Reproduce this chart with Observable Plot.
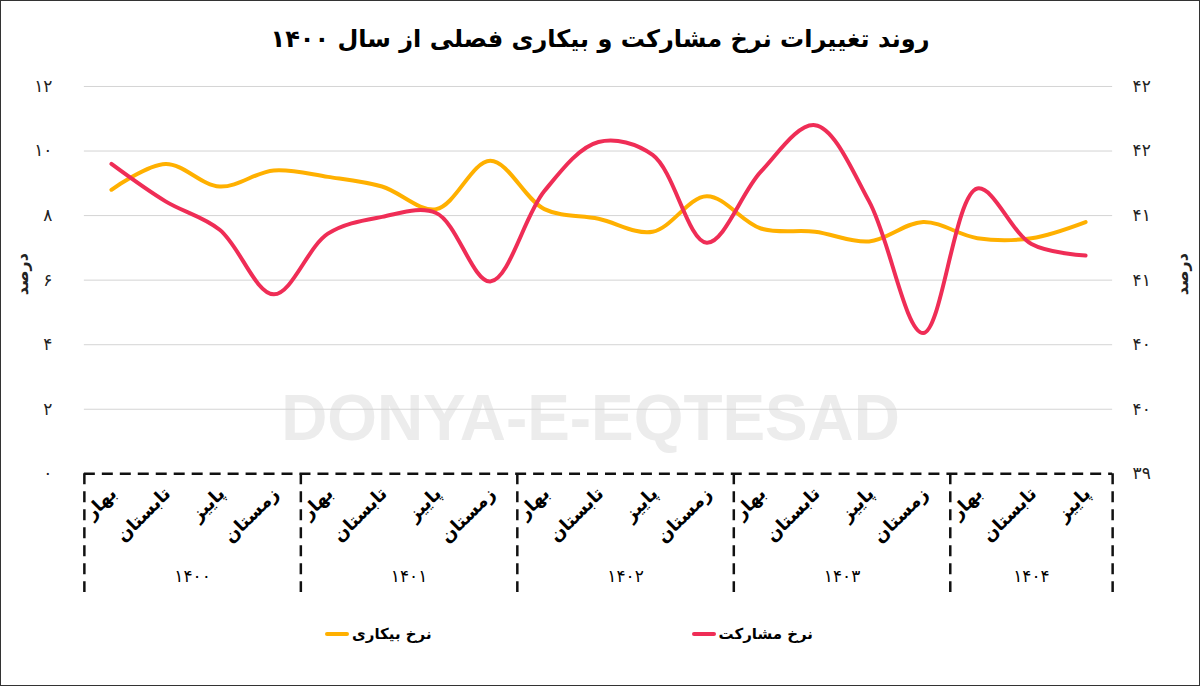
<!DOCTYPE html>
<html>
<head>
<meta charset="utf-8">
<script src="https://cdn.jsdelivr.net/npm/d3@7"></script>
<script src="https://cdn.jsdelivr.net/npm/@observablehq/plot@0.6"></script>
<style>
  html, body { margin: 0; padding: 0; background: #fff; }
  #wrap { position: relative; width: 1200px; height: 686px; box-sizing: border-box; border: 1px solid #333; overflow: hidden; font-family: "DejaVu Sans", sans-serif; }
  #title { position: absolute; top: 24px; left: 0; width: 100%; text-align: center; font-size: 24px; font-weight: bold; color: #000; direction: rtl; }
  #chart { position: absolute; top: 70px; left: 0; }
  #legend { position: absolute; top: 624px; left: 0; width: 100%; display: flex; justify-content: center; gap: 260px; padding-right: 62px; box-sizing: border-box; font-size: 15px; font-weight: bold; }
  .item { display: flex; align-items: center; gap: 3px; }
  .swatch { width: 24px; height: 4px; border-radius: 2px; }
</style>
</head>
<body>
<div id="wrap">
  <div id="title">روند تغییرات نرخ مشارکت و بیکاری فصلی از سال ۱۴۰۰</div>
  <div id="chart"></div>
  <div id="legend"></div>
</div>
<script>
const years = ["1400", "1401", "1402", "1403", "1404"];
const quartersPerYear = [4, 4, 4, 4, 3];
const seasons = ["بهار", "تابستان", "پاییز", "زمستان"];
const unemployment = [8.8, 9.6, 8.9, 9.4, 9.2, 8.9, 8.2, 9.7, 8.2, 7.9, 7.5, 8.6, 7.6, 7.5, 7.2, 7.8, 7.3, 7.3, 7.8];
const participation = [41.40, 41.11, 40.89, 40.39, 40.86, 40.99, 41.02, 40.49, 41.19, 41.57, 41.47, 40.79, 41.34, 41.70, 41.11, 40.09, 41.21, 40.78, 40.69];
const leftTicks = [0, 2, 4, 6, 8, 10, 12];
const rightTicks = [39, 39.5, 40, 40.5, 41, 41.5, 42];
const seriesNames = { unemployment: "نرخ بیکاری", participation: "نرخ مشارکت" };
const colors = { unemployment: "#ffb000", participation: "#ef2d56" };

const fa = s => String(s).replace(/\d/g, d => "۰۱۲۳۴۵۶۷۸۹"[d]);
const lMin = leftTicks[0], lMax = leftTicks[leftTicks.length - 1];
const rMin = rightTicks[0], rMax = rightTicks[rightTicks.length - 1];
const toLeft = v => lMin + (v - rMin) * (lMax - lMin) / (rMax - rMin);
const fromLeft = v => rMin + (v - lMin) * (rMax - rMin) / (lMax - lMin);

// build rows
const rows = [];
let idx = 0;
const groups = [];
years.forEach((y, gi) => {
  const start = idx;
  for (let q = 0; q < quartersPerYear[gi]; q++) {
    rows.push({ i: idx, year: y, season: seasons[q], u: unemployment[idx], p: participation[idx], pl: toLeft(participation[idx]) });
    idx++;
  }
  groups.push({ year: y, start: start - 0.5, end: idx - 0.5, center: (start + idx - 1) / 2 });
});
const boundaries = [groups[0].start, ...groups.map(g => g.end)];

const W = 1200, H = 540, mTop = 15, mBottom = 137, mLeft = 83, mRight = 87;
const frameH = H - mTop - mBottom;

const chart = Plot.plot({
  width: W, height: H,
  marginTop: mTop, marginBottom: mBottom, marginLeft: mLeft, marginRight: mRight,
  style: { fontFamily: "DejaVu Sans, sans-serif", fontSize: "16px", color: "#222", background: "transparent" },
  x: { type: "linear", domain: [groups[0].start, groups[groups.length - 1].end], axis: null },
  y: { domain: [lMin, lMax], axis: null },
  marks: [
    Plot.text(["DONYA-E-EQTESAD"], { frameAnchor: "middle", dx: -8, dy: 140, fill: "#ececec", fontSize: 64, fontWeight: "bold", fontFamily: "Liberation Sans, Arial, sans-serif" }),
    Plot.ruleY(leftTicks.filter(t => t !== lMin), { stroke: "#d4d4d4", strokeWidth: 1 }),
    Plot.axisY(leftTicks, { anchor: "left", tickSize: 0, tickPadding: 32, tickFormat: d => fa(d), fontSize: 17, fill: "#222" }),
    Plot.axisY(rightTicks.map(toLeft), { anchor: "right", tickSize: 0, tickPadding: 20, tickFormat: d => fa(Math.round(fromLeft(d))), fontSize: 17, fill: "#222", textAnchor: "start" }),
    Plot.text(["درصد"], { frameAnchor: "left", textAnchor: "middle", dx: -62, dy: -6, rotate: -90, fontWeight: "bold", fontSize: 16 }),
    Plot.text(["درصد"], { frameAnchor: "right", textAnchor: "middle", dx: 70, dy: -6, rotate: -90, fontWeight: "bold", fontSize: 16 }),
    Plot.line(rows, { x: "i", y: "u", stroke: colors.unemployment, strokeWidth: 4, curve: "catmull-rom" }),
    Plot.line(rows, { x: "i", y: "pl", stroke: colors.participation, strokeWidth: 4, curve: "catmull-rom" }),
    Plot.ruleY([lMin], { stroke: "#111", strokeWidth: 2.5, strokeDasharray: "11,7" }),
    Plot.ruleX(boundaries, { stroke: "#111", strokeWidth: 2.5, strokeDasharray: "11,7", insetTop: frameH, insetBottom: -125 }),
    Plot.text(rows, { x: "i", text: "season", frameAnchor: "bottom", rotate: -45, textAnchor: "end", lineAnchor: "top", dx: -3, dy: 12, fontWeight: "bold", fontSize: 18, fill: "#000" }),
    Plot.text(groups, { x: "center", text: d => fa(d.year), frameAnchor: "bottom", dy: 108, fontSize: 17, fill: "#000" })
  ]
});
document.getElementById("chart").appendChild(chart);

const legend = document.getElementById("legend");
["unemployment", "participation"].forEach(k => {
  const it = document.createElement("div");
  it.className = "item";
  const sw = document.createElement("div");
  sw.className = "swatch";
  sw.style.background = colors[k];
  const tx = document.createElement("span");
  tx.textContent = seriesNames[k];
  it.appendChild(sw); it.appendChild(tx);
  legend.appendChild(it);
});
</script>
</body>
</html>
